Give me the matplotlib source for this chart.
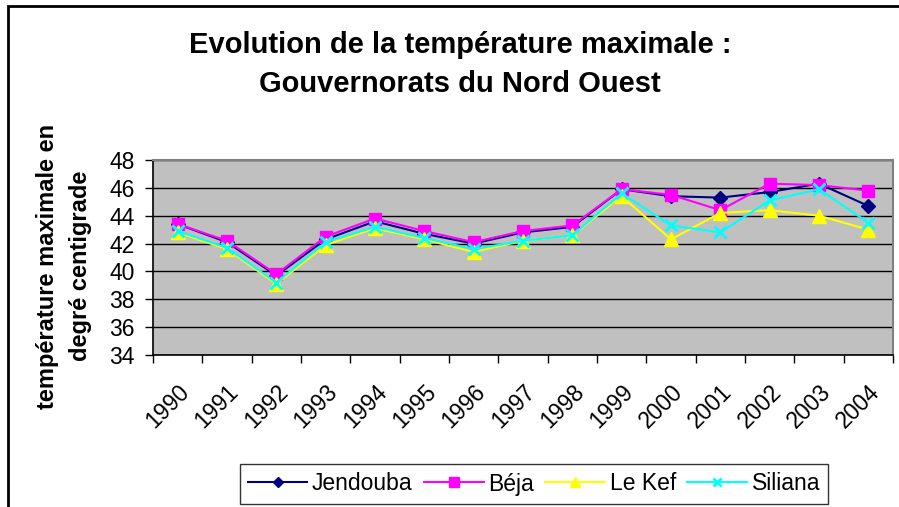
import numpy as np
import matplotlib.pyplot as plt
from matplotlib.patches import Rectangle
from matplotlib.transforms import ScaledTranslation

plt.rcParams['font.family'] = ['Liberation Sans', 'DejaVu Sans']

# -----------------------------------------------------
# Data
# -----------------------------------------------------
years = ["1990", "1991", "1992", "1993", "1994", "1995", "1996", "1997",
         "1998", "1999", "2000", "2001", "2002", "2003", "2004"]

jendouba = [43.4, 42.1, 39.7, 42.3, 43.6, 42.7, 42.0, 42.8, 43.2, 45.9,
            45.4, 45.3, 45.7, 46.3, 44.7]
beja = [43.4, 42.2, 39.8, 42.5, 43.8, 42.9, 42.1, 42.9, 43.3, 45.9,
        45.5, 44.4, 46.3, 46.2, 45.8]
le_kef = [42.8, 41.6, 39.1, 41.9, 43.1, 42.3, 41.4, 42.2, 42.6, 45.4,
          42.3, 44.2, 44.4, 44.0, 43.0]
siliana = [42.9, 41.7, 39.2, 42.1, 43.2, 42.4, 41.6, 42.2, 42.6, 45.6,
           43.3, 42.8, 45.1, 45.9, 43.5]

yticks = [34, 36, 38, 40, 42, 44, 46, 48]

series = [
    ("Jendouba", jendouba, "#000080", "D", 7),
    ("Béja", beja, "#FF00FF", "s", 8.5),
    ("Le Kef", le_kef, "#FFFF00", "^", 9.5),
    ("Siliana", siliana, "#00FFFF", "x", 8),
]

# -----------------------------------------------------
# Figure
# -----------------------------------------------------
W, H = 899, 507
fig = plt.figure(figsize=(W / 100, H / 100), dpi=100)
fig.patch.set_facecolor("white")

# outer chart frame
fig.add_artist(Rectangle((8 / W, -0.05), 1.1, 1 - 6 / H + 0.05,
                         transform=fig.transFigure, fill=False,
                         edgecolor="black", linewidth=2.0, clip_on=False))

ax = fig.add_axes([153 / W, (H - 355) / H, 740 / W, 195 / H])
ax.set_facecolor("#C0C0C0")

x = np.arange(len(years))
for name, vals, color, marker, ms in series:
    mew = 2 if marker == "x" else 1
    ax.plot(x, vals, color=color, marker=marker, markersize=ms,
            markeredgewidth=mew, linewidth=1.5, label=name)

ax.set_xlim(-0.5, len(years) - 0.5)
ax.set_ylim(34, 48)
ax.set_yticks(yticks)
ax.set_yticklabels([str(v) for v in yticks], fontsize=16.5)
ax.yaxis.grid(True, color="black", linewidth=1)
ax.set_axisbelow(True)

# category ticks between the points, labels under the points
ax.set_xticks(np.arange(len(years) + 1) - 0.5)
ax.set_xticklabels([])
ax.set_xticks(x, minor=True)
ax.set_xticklabels(years, minor=True, rotation=45, ha="right",
                   rotation_mode="anchor", fontsize=16.5)
shift = ScaledTranslation(-16 / 100, 0, fig.dpi_scale_trans)
for lab in ax.get_xticklabels(minor=True):
    lab.set_transform(lab.get_transform() + shift)
ax.tick_params(axis="x", which="minor", length=0, pad=18)
ax.tick_params(axis="x", which="major", length=6, width=1, direction="out")
ax.tick_params(axis="y", length=6, width=1, direction="out", pad=7)

for side in ["top", "right"]:
    ax.spines[side].set_color("#808080")
    ax.spines[side].set_linewidth(1.5)
for side in ["left", "bottom"]:
    ax.spines[side].set_color("black")
    ax.spines[side].set_linewidth(1.2)

# titles
fig.text(460 / W, 1 - 45 / H, "Evolution de la température maximale :",
         ha="center", va="center", fontsize=21, fontweight="bold")
fig.text(460 / W, 1 - 84 / H, "Gouvernorats du Nord Ouest",
         ha="center", va="center", fontsize=21, fontweight="bold")

fig.text(48 / W, 1 - 266 / H, "température maximale en",
         ha="center", va="center", rotation=90, fontsize=17, fontweight="bold")
fig.text(81 / W, 1 - 266 / H, "degré centigrade",
         ha="center", va="center", rotation=90, fontsize=17, fontweight="bold")

leg = ax.legend(loc="center", bbox_to_anchor=(534 / W, 1 - 484 / H),
                bbox_transform=fig.transFigure, ncol=4, fontsize=16.5,
                frameon=True, fancybox=False, edgecolor="black",
                handlelength=2.6, handletextpad=0.2, columnspacing=0.5,
                borderpad=0.35, markerscale=0.8)
leg.get_frame().set_linewidth(1.0)

fig.savefig("out.png", dpi=100)
